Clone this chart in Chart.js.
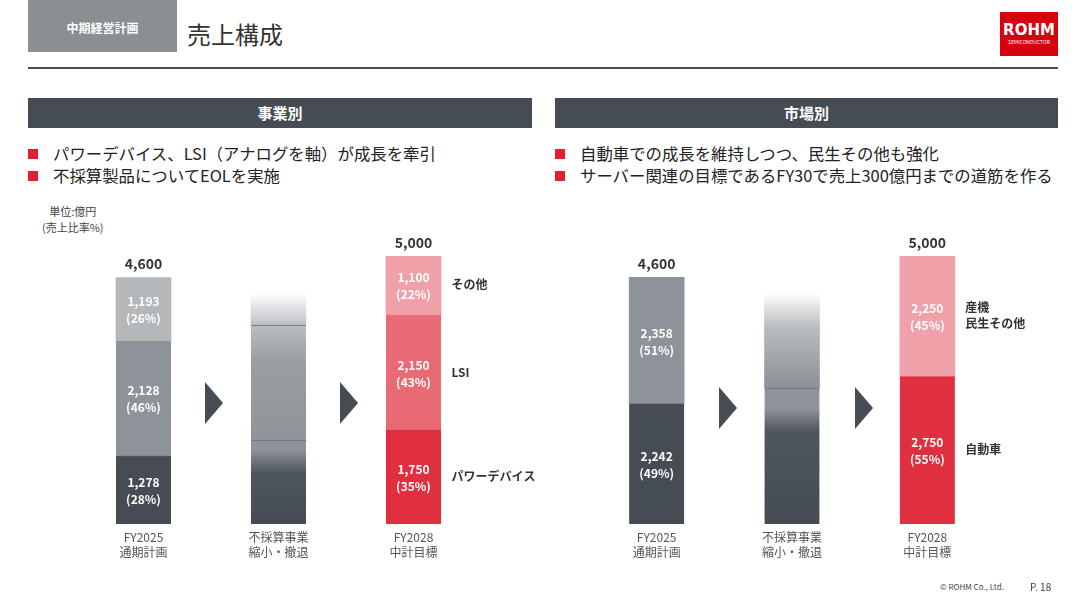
<!DOCTYPE html>
<html><head><meta charset="utf-8">
<script src="https://cdn.jsdelivr.net/npm/chart.js@4.4.0/dist/chart.umd.min.js"></script>
<style>
body{margin:0;width:1080px;height:608px;background:#fff;position:relative;overflow:hidden;font-family:"Noto Sans CJK JP","Noto Sans",sans-serif;color:#333}
.abs{position:absolute}
.sec{position:absolute;top:98px;height:30px;background:#454c53;color:#fff;font-weight:bold;font-size:15px;text-align:center;line-height:30px}
.bul{position:absolute;font-size:16.4px;color:#222;line-height:22px}
.bul div:before{content:"";display:inline-block;width:10px;height:10px;background:#e0202e;margin-right:15px;vertical-align:1px}
.arr{position:absolute;width:0;height:0;border-top:21px solid transparent;border-bottom:21px solid transparent;border-left:18px solid #454c53}
</style></head><body>
<div class="abs" style="left:28px;top:0;width:149px;height:52px;background:#8a8f94;color:#fff;font-size:12px;font-weight:bold;text-align:center;padding-top:10px;box-sizing:border-box;line-height:36px">中期経営計画</div>
<div class="abs" style="left:187px;top:16px;font-size:24px;color:#333">売上構成</div>
<div class="abs" style="left:1000px;top:12px;width:58px;height:44px;background:#d7000f;color:#fff;text-align:center">
  <div style="font-weight:bold;font-size:15px;margin-top:10px;line-height:16px;font-family:'DejaVu Sans'">ROHM</div>
  <div style="font-size:5px;line-height:8px">SEMICONDUCTOR</div></div>
<div class="abs" style="left:28px;top:67px;width:1030px;height:2px;background:#454c53"></div>
<div class="sec" style="left:28px;width:504px">事業別</div>
<div class="sec" style="left:555px;width:503px">市場別</div>
<div class="bul" style="left:28px;top:142px"><div>パワーデバイス、LSI（アナログを軸）が成長を牽引</div><div>不採算製品についてEOLを実施</div></div>
<div class="bul" style="left:555px;top:142px"><div>自動車での成長を維持しつつ、民生その他も強化</div><div>サーバー関連の目標であるFY30で売上300億円までの道筋を作る</div></div>
<div class="abs" style="left:42px;top:203px;font-size:11px;color:#444;line-height:16px;text-align:center">単位:億円<br>(売上比率%)</div>
<canvas id="c1" class="abs" style="left:28px;top:200px"></canvas>
<canvas id="c2" class="abs" style="left:555px;top:200px"></canvas>
<div class="arr" style="left:205px;top:382px"></div>
<div class="arr" style="left:340px;top:382px"></div>
<div class="arr" style="left:719px;top:387px"></div>
<div class="arr" style="left:855px;top:387px"></div>
<div class="abs" style="left:940px;top:581px;font-size:8px;color:#444">© ROHM Co., Ltd.</div>
<div class="abs" style="left:1030px;top:579px;font-size:10px;color:#444">P. 18</div>
<script>
const categories = [['FY2025','通期計画'],['不採算事業','縮小・撤退'],['FY2028','中計目標']];
// 事業別
const bizBottom = [1278, 1567, 1750];
const bizMiddle = [2128, 2146, 2150];
const bizTop = [1193, 597, 1100];
const bizPct = [[28,null,35],[46,null,43],[26,null,22]];
const bizTotals = ['4,600', null, '5,000'];
const bizNames = ['パワーデバイス', 'LSI', 'その他'];
// 市場別
const mktBottom = [2242, 2537, 2750];
const mktTop = [2358, 1773, 2250];
const mktPct = [[49,null,55],[51,null,45]];
const mktTotals = ['4,600', null, '5,000'];
const mktNames = ['自動車', '産機\n民生その他'];

function midGrad(chart, stops) {
  const a = chart.chartArea; if (!a) return '#999';
  const y = chart.scales.y, ctx = chart.ctx;
  const g = ctx.createLinearGradient(0, y.getPixelForValue(4310), 0, a.bottom);
  stops.forEach(s => g.addColorStop(s[0], s[1]));
  return g;
}

const labelPlugin = {
  id: 'lbl',
  afterDatasetsDraw(chart, args, o) {
    const ctx = chart.ctx, x = chart.scales.x, y = chart.scales.y;
    ctx.save(); ctx.textAlign = 'center';
    chart.data.datasets.forEach((ds, di) => {
      const meta = chart.getDatasetMeta(di);
      meta.data.forEach((b, i) => {
        const p = o.pct[di][i]; if (p == null) return;
        const cy = (b.y + b.base) / 2;
        ctx.fillStyle = '#fff'; ctx.font = 'bold 12px "Noto Sans CJK JP"';
        ctx.fillText(ds.data[i].toLocaleString('en-US'), b.x, cy - 3);
        ctx.fillText('(' + p + '%)', b.x, cy + 14);
      });
    });
    categories.forEach((c, i) => {
      const px = x.getPixelForValue(i);
      if (o.totals[i]) {
        const top = chart.getDatasetMeta(chart.data.datasets.length - 1).data[i].y;
        ctx.fillStyle = '#333'; ctx.font = 'bold 14px "Noto Sans CJK JP"';
        ctx.fillText(o.totals[i], px, top - 8);
      }
      ctx.fillStyle = '#555'; ctx.font = '12px "Noto Sans CJK JP"';
      ctx.fillText(c[0], px, y.bottom + 18); ctx.fillText(c[1], px, y.bottom + 33);
    });
    ctx.textAlign = 'left'; ctx.fillStyle = '#333'; ctx.font = 'bold 12px "Noto Sans CJK JP"';
    o.names.forEach((n, di) => {
      const b = chart.getDatasetMeta(di).data[2];
      const lines = n.split('\n'), cy = (b.y + b.base) / 2 - (lines.length - 1) * 8;
      lines.forEach((l, k) => ctx.fillText(l, b.x + 38, cy + 4 + k * 16));
    });
    ctx.restore();
  }
};

function make(id, sets, opt, pad) {
  const el = document.getElementById(id);
  el.width = 520; el.height = 380;
  return new Chart(el, {
    type: 'bar',
    data: { labels: categories.map(c => c[0]), datasets: sets },
    options: {
      responsive: false, animation: false,
      layout: { padding: { top: 56, bottom: 56, left: pad[0], right: pad[1] } },
      plugins: { legend: { display: false }, tooltip: { enabled: false }, lbl: opt },
      scales: {
        x: { stacked: true, display: false },
        y: { stacked: true, display: false, min: 0, max: 5000 }
      }
    },
    plugins: [labelPlugin]
  });
}

const midLine = { top: 1, bottom: 0, left: 0, right: 0 };
const g1 = [[0,'#fff'],[0.15,'#b8bbbf'],[0.3,'#9a9ea3'],[0.68,'#8e9399'],[0.78,'#4e555c'],[1,'#454c53']];
const g2 = [[0,'#fff'],[0.15,'#b8bbbf'],[0.4,'#8e9399'],[0.5,'#8e9399'],[0.6,'#4e555c'],[1,'#454c53']];
make('c1', [
  { data: bizBottom, barThickness: 55, borderSkipped: false, borderWidth: midLine, borderColor: ['#454c53','#6b7077','#e03040'],
    backgroundColor: c => [ '#454c53', midGrad(c.chart, g1), '#e03040'][c.dataIndex] },
  { data: bizMiddle, barThickness: 55, borderSkipped: false, borderWidth: midLine, borderColor: ['#8e9399','#6b7077','#e86a75'],
    backgroundColor: c => [ '#8e9399', midGrad(c.chart, g1), '#e86a75'][c.dataIndex] },
  { data: bizTop, barThickness: 55, borderWidth: 0,
    backgroundColor: c => [ '#b5b8bb', midGrad(c.chart, g1), '#f0a0a8'][c.dataIndex] }
], { pct: bizPct, totals: bizTotals, names: bizNames }, [48, 67]);

make('c2', [
  { data: mktBottom, barThickness: 55, borderSkipped: false, borderWidth: midLine, borderColor: ['#454c53','#6b7077','#e03040'],
    backgroundColor: c => [ '#454c53', midGrad(c.chart, g2), '#e03040'][c.dataIndex] },
  { data: mktTop, barThickness: 55, borderWidth: 0,
    backgroundColor: c => [ '#8e9399', midGrad(c.chart, g2), '#f0a0a8'][c.dataIndex] }
], { pct: mktPct, totals: mktTotals, names: mktNames }, [34, 80]);
</script>
</body></html>
